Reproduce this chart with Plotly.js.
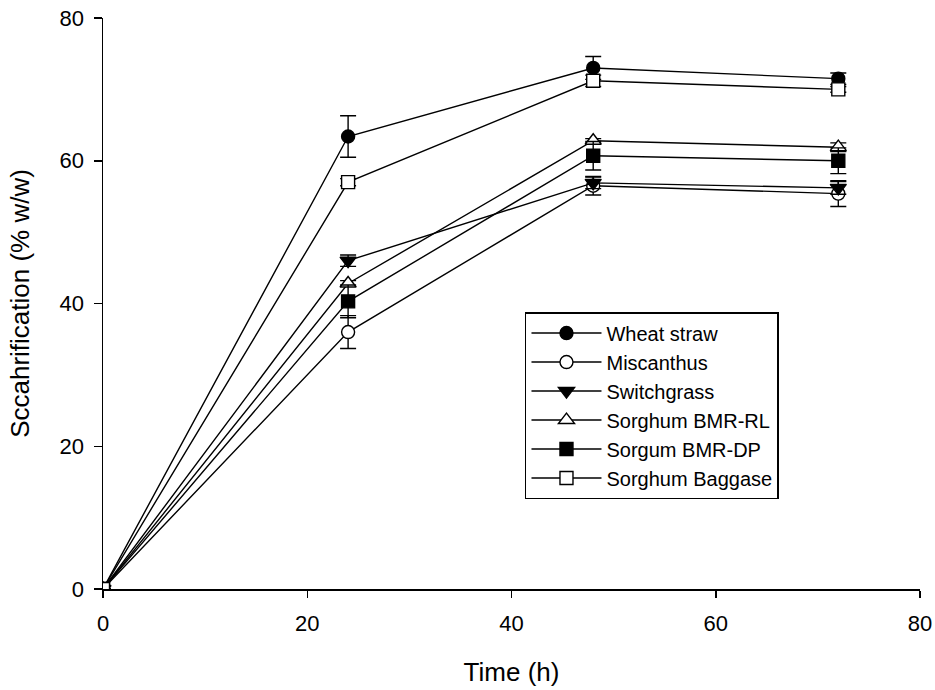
<!DOCTYPE html>
<html>
<head>
<meta charset="utf-8">
<script src="https://cdn.plot.ly/plotly-3.0.1.min.js"></script>
<style>body{margin:0;padding:0;background:#fff;} #chart{width:935px;height:690px;}</style>
</head>
<body>
<div id="chart"></div>
<script>
const timeH = [0, 24, 48, 72];
const seriesNames = ["Wheat straw", "Miscanthus", "Switchgrass", "Sorghum BMR-RL", "Sorgum BMR-DP", "Sorghum Baggase"];
const wheatStraw = [0, 63.4, 73.0, 71.5];
const wheatStrawErr = [0, 2.9, 1.6, 0.8];
const miscanthus = [0, 36.0, 56.5, 55.4];
const miscanthusErr = [0, 2.3, 1.3, 1.8];
const switchgrass = [0, 46.0, 56.9, 56.2];
const switchgrassErr = [0, 0.8, 0.8, 0.9];
const sorghumRL = [0, 42.8, 62.8, 61.9];
const sorghumRLErr = [0, 0.4, 0.3, 0.6];
const sorgumDP = [0, 40.3, 60.7, 60.0];
const sorgumDPErr = [0, 2.3, 2.0, 1.8];
const sorghumBaggase = [0, 57.0, 71.2, 70.0];
const sorghumBaggaseErr = [0, 0.5, 0.8, 0.4];

const yData = [wheatStraw, miscanthus, switchgrass, sorghumRL, sorgumDP, sorghumBaggase];
const errData = [wheatStrawErr, miscanthusErr, switchgrassErr, sorghumRLErr, sorgumDPErr, sorghumBaggaseErr];
const symbols = ["circle", "circle", "triangle-down", "triangle-up", "square", "square"];
const fills = ["#000", "#fff", "#000", "#fff", "#000", "#fff"];

const traces = seriesNames.map((name, i) => ({
  x: timeH,
  y: yData[i],
  name: name,
  type: "scatter",
  mode: "lines+markers",
  line: {color: "#000", width: 1.4},
  marker: {
    symbol: symbols[i],
    size: symbols[i].indexOf("triangle") >= 0 ? 14 : 13,
    color: fills[i],
    line: {color: "#000", width: 1.4}
  },
  error_y: {type: "data", array: errData[i], visible: true, color: "#000", thickness: 1.4, width: 8}
}));

const layout = {
  width: 935, height: 690,
  paper_bgcolor: "#fff", plot_bgcolor: "#fff",
  margin: {l: 103, r: 15, t: 18, b: 101},
  font: {family: "Liberation Sans, Arial, sans-serif", color: "#000", size: 22},
  showlegend: true,
  legend: {
    x: 0.5165, y: 0.485, xanchor: "left", yanchor: "top",
    bordercolor: "#000", borderwidth: 1.5, bgcolor: "#fff",
    font: {size: 20}, tracegroupgap: 0, itemwidth: 70
  },
  xaxis: {
    range: [0, 80], tickvals: [0, 20, 40, 60, 80],
    showline: true, linecolor: "#000", linewidth: 1.5,
    ticks: "outside", ticklen: 7, tickwidth: 1.5, tickcolor: "#000",
    ticklabelstandoff: 7,
    showgrid: false, zeroline: false, automargin: false,
    title: {text: "Time (h)", font: {size: 26}, standoff: 28}
  },
  yaxis: {
    range: [0, 80], tickvals: [0, 20, 40, 60, 80],
    showline: true, linecolor: "#000", linewidth: 1.5,
    ticks: "outside", ticklen: 8, tickwidth: 1.5, tickcolor: "#000",
    ticklabelstandoff: 5,
    showgrid: false, zeroline: false, automargin: false,
    title: {text: "Sccahrification (% w/w)", font: {size: 26}, standoff: 22}
  }
};

Plotly.newPlot("chart", traces, layout, {displayModeBar: false, staticPlot: true});
</script>
</body>
</html>
